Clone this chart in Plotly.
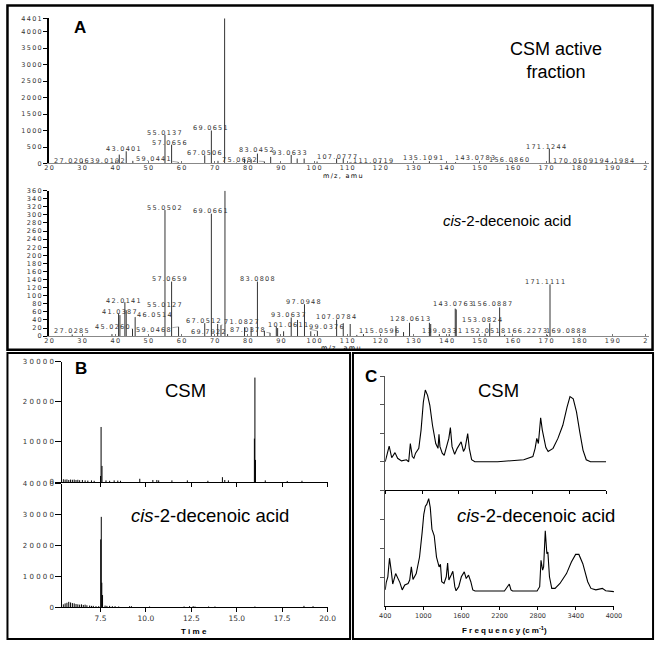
import plotly.graph_objects as go

W, H = 664, 645
SANS = "Liberation Sans, Arial, Helvetica, sans-serif"
SMALL = "DejaVu Sans, Verdana, sans-serif"
THIN = "\u2009"

# ---- panel A: mass spectra (m/z, intensity) ----
A1_MZ = [27.0, 39.0, 41.2, 43.3, 45.3, 55.0, 57.0, 59.0, 67.0, 69.0,
         71.0, 73.0, 76.6, 79.0, 81.0, 82.9, 85.0, 86.9, 93.1, 94.9,
         97.0, 100.9, 106.8, 108.8, 110.8, 134.8, 142.7, 156.0, 171.0, 184.0]
A1_INT = [20, 20, 270, 370, 80, 870, 570, 40, 250, 1000,
          80, 4401, 30, 150, 130, 300, 60, 200, 260, 150,
          150, 60, 150, 150, 30, 70, 40, 20, 450, 15]
A1_LABELS = ["27.0206", "39.0192", "43.0401", "59.0441", "55.0137", "57.0656",
             "67.0506", "69.0651", "73.0246", "75.0682", "83.0452", "93.0633",
             "107.0777", "111.0719", "135.1091", "143.0783", "156.0860",
             "171.1244", "170.0509", "194.1984"]

A2_MZ = [27.0, 39.0, 41.0, 41.4, 42.9, 43.3, 45.2, 46.0, 55.0, 57.0,
         59.1, 67.0, 69.0, 70.9, 71.9, 73.1, 73.9, 79.0, 81.0, 82.9,
         85.0, 86.7, 88.6, 89.0, 90.8, 93.1, 95.0, 97.1, 99.0, 101.0,
         106.8, 108.8, 110.9, 112.9, 114.9, 124.7, 127.0, 128.8, 134.8, 135.2,
         137.8, 140.8, 142.6, 142.9, 151.6, 153.0, 156.0, 157.5, 170.4, 171.2]
A2_INT = [4, 5, 55, 52, 84, 64, 18, 47, 312, 135,
          23, 32, 303, 30, 27, 360, 5, 22, 22, 135,
          13, 8, 23, 20, 12, 46, 40, 79, 12, 13,
          41, 32, 30, 3, 5, 25, 10, 33, 33, 30,
          5, 5, 68, 66, 6, 32, 71, 3, 3, 128]
A2_LABELS = ["27.0285", "45.0260", "41.0387", "42.0141", "46.0514", "55.0127",
             "59.0468", "55.0502", "57.0659", "69.0661", "73.0283", "67.0512",
             "69.7922", "71.0827", "87.0378", "83.0808", "97.0948", "93.0637",
             "101.0611", "107.0784", "99.0376", "115.0596", "128.0613",
             "139.0331", "143.0763", "156.0887", "153.0824", "152.0518",
             "166.2273", "169.0888", "171.1111"]

MZ_TICKS = [20, 30, 40, 50, 60, 70, 80, 90, 100, 110, 120, 130, 140, 150,
            160, 170, 180, 190, 200]
MZ_TICK_TEXT = ["20", "30", "40", "50", "60", "70", "80", "90", "100", "110",
                "120", "130", "140", "150", "160", "170", "180", "190", "2"]
A1_YTICKS = [0, 500, 1000, 1500, 2000, 2500, 3000, 3500, 4000, 4401]
A2_YTICKS = list(range(0, 361, 20))

# ---- panel B: GC chromatograms (time, abundance) ----
B1_T = [5.45, 5.55, 5.65, 5.75, 5.85, 5.95, 6.05, 6.15, 6.25, 6.35,
        6.5, 6.65, 6.8, 7.0, 7.15, 7.5, 7.53, 7.58, 7.8, 8.0,
        8.25, 8.45, 8.6, 9.66, 10.38, 10.6, 10.7, 11.43, 12.28, 13.41,
        14.21, 14.34, 14.54, 15.97, 16.0, 16.03, 16.57, 17.78, 18.59]
B1_A = [700, 600, 650, 500, 600, 550, 600, 500, 550, 450,
        500, 400, 350, 400, 300, 1500, 13700, 4000, 400, 300,
        400, 350, 300, 800, 500, 500, 400, 400, 400, 300,
        1200, 500, 400, 10800, 26000, 5500, 400, 250, 300]
B2_T = [5.45, 5.55, 5.65, 5.75, 5.85, 5.95, 6.05, 6.15, 6.25, 6.35,
        6.45, 6.55, 6.65, 6.75, 6.9, 7.0, 7.1, 7.25, 7.4, 7.51,
        7.54, 7.57, 7.61, 7.75, 7.85, 8.0, 8.15, 8.3, 8.5, 9.1,
        9.2, 10.2, 12.1, 12.4, 12.6, 12.7, 13.45, 13.8, 16.0, 18.7,
        19.2]
B2_A = [1000, 1300, 1500, 1800, 1600, 1400, 1300, 1100, 1000, 900,
        1000, 800, 900, 700, 600, 500, 500, 400, 400, 22000,
        29300, 8000, 4000, 600, 500, 500, 400, 400, 300, 400,
        400, 300, 300, 400, 400, 300, 300, 300, 300, 500,
        400]
B_XTICKS = [7.5, 10.0, 12.5, 15.0, 17.5, 20.0]
B_XTICK_TEXT = ["7.5", "10.0", "12.5", "15.0", "17.5", "20.0"]

# ---- panel C: IR spectra (wavenumber, relative absorbance) ----
C1_WN = [400, 464, 506, 559, 602, 665, 745, 782, 809, 841,
         867, 894, 947, 984, 1021, 1053, 1090, 1127, 1170, 1223,
         1260, 1276, 1292, 1329, 1361, 1398, 1436, 1462, 1489, 1531,
         1573, 1637, 1675, 1701, 1744, 1770, 1808, 1860, 2232, 2657,
         2806, 2843, 2870, 2896, 2933, 2960, 2986, 3018, 3055, 3135,
         3214, 3294, 3363, 3411, 3464, 3517, 3570, 3623, 3676, 3745,
         4000]
C1_ABS = [1.0, 1.55, 1.14, 1.32, 1.12, 1.03, 1.07, 1.0, 1.64, 1.18,
          1.12, 1.3, 1.47, 2.11, 3.09, 3.52, 3.33, 2.98, 2.28, 1.64,
          1.47, 1.96, 1.53, 1.3, 1.22, 1.53, 1.82, 2.2, 1.53, 1.26,
          1.47, 1.7, 1.36, 1.47, 1.99, 1.47, 1.07, 1.0, 1.0, 1.07,
          1.18, 1.47, 1.82, 1.64, 2.54, 2.11, 1.82, 1.5, 1.36, 1.47,
          1.82, 2.28, 2.92, 3.29, 3.21, 2.75, 2.05, 1.41, 1.07, 1.0,
          1.0]
C2_WN = [400, 415, 441, 467, 493, 518, 564, 590, 631, 667,
         708, 760, 785, 811, 837, 888, 940, 981, 1007, 1032,
         1053, 1084, 1109, 1135, 1171, 1207, 1248, 1269, 1289, 1325,
         1361, 1382, 1402, 1438, 1464, 1495, 1515, 1557, 1598, 1644,
         1675, 1711, 1747, 1778, 1814, 2276, 2317, 2353, 2379, 2405,
         2790, 2831, 2852, 2877, 2893, 2919, 2944, 2960, 2985, 3021,
         3073, 3150, 3253, 3330, 3397, 3448, 3510, 3587, 3638, 3715,
         3818, 3870, 4000]
C2_ABS = [0.57, 0.82, 1.02, 1.66, 1.25, 0.77, 1.13, 1.02, 0.82, 0.57,
          0.74, 0.79, 0.91, 1.36, 0.93, 1.13, 1.7, 2.55, 3.17, 3.45,
          3.51, 3.71, 3.4, 2.66, 2.43, 1.7, 1.36, 1.45, 0.85, 0.79,
          1.02, 1.49, 0.91, 1.08, 1.21, 0.68, 0.54, 0.68, 1.02, 1.19,
          0.96, 1.08, 0.85, 0.57, 0.53, 0.53, 0.68, 0.77, 0.57, 0.53,
          0.53, 0.68, 1.59, 1.25, 1.36, 2.6, 1.81, 1.87, 1.02, 0.62,
          0.62, 0.79, 1.13, 1.53, 1.79, 1.79, 1.47, 0.85, 0.62, 0.57,
          0.62, 0.54, 0.51]
C_XTICKS = [400, 1000, 1600, 2200, 2800, 3400, 4000]

# label placement (m/z, intensity) and optional leader end
A1_LABEL_PLACE = [
    (26.8, 90, None, None), (37.8, 90, None, None), (42.4, 434, None, None),
    (51.5, 144, 59.0, 40), (54.8, 934, None, None), (56.4, 623, None, None),
    (66.9, 323, None, None), (68.8, 1063, None, None), (72.8, 4536, None, None),
    (77.6, 105, 85.0, 60), (82.5, 404, None, None), (92.5, 314, None, None),
    (107.0, 195, None, None), (117.9, 75, 110.8, 30), (133.0, 165, None, None),
    (148.6, 165, 142.7, 40), (158.9, 105, None, None), (170.1, 494, None, None),
    (178.1, 75, 171.0, 30), (190.5, 75, 184.0, 15),
]
A2_LABEL_PLACE = [
    (26.8, 13, None, None), (39.2, 23.5, 45.2, 18), (41.2, 60, None, None),
    (42.4, 87, None, None), (51.8, 52, 46.0, 47), (54.8, 76.5, None, None),
    (51.5, 14.7, 59.1, 23), (54.8, 318, None, None), (56.4, 142, None, None),
    (68.8, 310.5, None, None), (72.8, 370, None, None), (66.7, 38, None, None),
    (68.1, 11, None, None), (78.1, 36, 71.9, 27), (79.9, 15.4, 86.7, 8),
    (82.8, 142, None, None), (96.7, 84.6, None, None), (92.2, 52, None, None),
    (92.2, 27.6, 101.0, 13), (106.7, 48, None, None), (103.8, 23.5, 99.0, 12),
    (119.7, 13, 113.5, 5), (128.8, 41.6, None, None), (138.6, 11.7, None, None),
    (142.0, 80.7, None, None), (153.6, 80.7, None, None), (150.7, 40, None, None),
    (151.5, 13, None, None), (164.2, 12.2, 157.5, 3), (176.0, 12.2, 170.4, 3),
    (169.8, 135, None, None),
]


def spaced(text, sep=THIN):
    return sep.join(text)


def fx(p):
    return p / W


def fy(p):
    return 1 - p / H


def stem_xy(xs, ys):
    # vertical sticks from zero up to each value
    x, y = [], []
    for a, b in zip(xs, ys):
        x += [a, a, None]
        y += [0, b, None]
    return x, y


def small_font(size=6.5):
    return dict(family=SMALL, size=size, color="#333")


def label_annotations(texts, places, xref, yref):
    anns = []
    for text, (lx, ly, tx, ty) in zip(texts, places):
        a = dict(text=spaced(text), xref=xref, yref=yref, font=small_font())
        if tx is None:
            a.update(x=lx, y=ly, showarrow=False)
        else:
            a.update(x=tx, y=ty, ax=lx, ay=ly, axref=xref, ayref=yref,
                     showarrow=True, arrowhead=0, arrowwidth=0.6,
                     arrowcolor="#777", standoff=0)
        anns.append(a)
    return anns


def ms_xaxis(ydom_anchor):
    return dict(domain=[fx(44), fx(657.6)], anchor=ydom_anchor, range=[20, 201],
                tickmode="array", tickvals=MZ_TICKS,
                ticktext=[spaced(t) for t in MZ_TICK_TEXT],
                ticks="inside", ticklen=2, tickcolor="#777", ticklabelstandoff=-2,
                showline=True, linecolor="#888", linewidth=1,
                showgrid=False, zeroline=False, tickfont=small_font())


def ms_yaxis(xanchor, dom, top, ticks):
    return dict(domain=dom, anchor=xanchor, range=[0, top],
                tickmode="array", tickvals=ticks,
                ticktext=[spaced(str(t)) for t in ticks],
                ticks="outside", ticklen=4, tickcolor="black",
                showline=True, linecolor="black", linewidth=2,
                showgrid=False, zeroline=False, tickfont=small_font())


def build_figure():
    fig = go.Figure()
    line = dict(color="#333", width=1)

    x, y = stem_xy(A1_MZ, A1_INT)
    fig.add_trace(go.Scatter(x=x, y=y, mode="lines", line=line, xaxis="x", yaxis="y"))
    x, y = stem_xy(A2_MZ, A2_INT)
    fig.add_trace(go.Scatter(x=x, y=y, mode="lines", line=line, xaxis="x2", yaxis="y2"))

    x, y = stem_xy(B1_T, B1_A)
    fig.add_trace(go.Scatter(x=x, y=y, mode="lines", line=dict(color="black", width=1),
                             xaxis="x3", yaxis="y3"))
    x, y = stem_xy(B2_T, B2_A)
    fig.add_trace(go.Scatter(x=x, y=y, mode="lines", line=dict(color="black", width=1),
                             xaxis="x4", yaxis="y4"))

    fig.add_trace(go.Scatter(x=C1_WN, y=C1_ABS, mode="lines",
                             line=dict(color="black", width=1.1), xaxis="x5", yaxis="y5"))
    fig.add_trace(go.Scatter(x=C2_WN, y=C2_ABS, mode="lines",
                             line=dict(color="black", width=1.1), xaxis="x6", yaxis="y6"))
    fig.update_traces(hoverinfo="skip", showlegend=False, cliponaxis=False)

    b_x = dict(domain=[fx(57.7), fx(329)], range=[5.4, 20], tickmode="array",
               tickvals=B_XTICKS, ticktext=B_XTICK_TEXT, ticks="outside", ticklen=4,
               tickcolor="black", showline=True, linecolor="black", linewidth=1,
               showgrid=False, zeroline=False, tickfont=small_font(7.5))
    b_y = dict(ticks="outside", ticklen=6, tickcolor="black", showline=True,
               linecolor="black", linewidth=1, showgrid=False, zeroline=False,
               tickfont=small_font(7), tickmode="array")
    c_x = dict(range=[400, 4000], tickmode="array", tickvals=C_XTICKS,
               ticks="outside", ticklen=3, tickcolor="black", showline=True,
               linecolor="black", linewidth=1, showgrid=False, zeroline=False,
               tickfont=small_font(6.5))
    c_y = dict(range=[0, 4], tickvals=[1, 2, 3, 4], showticklabels=False,
               ticks="outside", ticklen=4, tickcolor="#555", showline=True,
               linecolor="#555", linewidth=1, showgrid=False, zeroline=False)

    b1_ticks = [0, 10000, 20000, 30000]
    b2_ticks = [0, 10000, 20000, 30000, 40000]

    fig.update_layout(
        width=W, height=645, margin=dict(l=0, r=0, t=0, b=0),
        paper_bgcolor="white", plot_bgcolor="white", showlegend=False,
        xaxis=ms_xaxis("y"),
        yaxis=ms_yaxis("x", [fy(161.5), fy(14.5)], 4401, A1_YTICKS),
        xaxis2=ms_xaxis("y2"),
        yaxis2=ms_yaxis("x2", [fy(336.3), fy(189)], 360, A2_YTICKS),
        xaxis3=dict(b_x, anchor="y3", showticklabels=False),
        yaxis3=dict(b_y, anchor="x3", domain=[fy(484), fy(362)], range=[0, 30000],
                    tickvals=b1_ticks, ticktext=[spaced(str(t), " ") for t in b1_ticks]),
        xaxis4=dict(b_x, anchor="y4"),
        yaxis4=dict(b_y, anchor="x4", domain=[fy(611), fy(485.8)], range=[0, 40000],
                    tickvals=b2_ticks, ticktext=[spaced(str(t), " ") for t in b2_ticks]),
        xaxis5=dict(c_x, anchor="y5", domain=[fx(388), fx(614)], showticklabels=False),
        yaxis5=dict(c_y, anchor="x5", domain=[fy(492.3), fy(377)]),
        xaxis6=dict(c_x, anchor="y6", domain=[fx(388), fx(622)]),
        yaxis6=dict(c_y, anchor="x6", domain=[fy(610), fy(492.3)]),
    )

    anns = label_annotations(A1_LABELS, A1_LABEL_PLACE, "x", "y")
    anns += label_annotations(A2_LABELS, A2_LABEL_PLACE, "x2", "y2")

    def text_at(px, py, text, size, bold=False, family=SANS):
        if bold:
            text = "<b>" + text + "</b>"
        return dict(x=fx(px), y=fy(py), xref="paper", yref="paper", text=text,
                    showarrow=False, xanchor="center", yanchor="middle",
                    font=dict(family=family, size=size, color="black"))

    anns += [
        text_at(345, 174.5, spaced("m/z, amu"), 6.5, family=SMALL),
        text_at(343, 348.5, spaced("m/z, amu"), 6.5, family=SMALL),
        text_at(76, 24, "A", 17, bold=True),
        text_at(563, 57, "CSM active<br>fraction", 18),
        text_at(513, 219, "<i>cis</i>-2-decenoic acid", 15),
        text_at(77, 369, "B", 17, bold=True),
        text_at(184, 391, "CSM", 18.5),
        text_at(209, 518, "<i>cis</i>-2-decenoic acid", 18.5),
        text_at(192, 635, spaced("Time", " "), 8, bold=True),
        text_at(373, 377, "C", 17, bold=True),
        text_at(504, 391, "CSM", 18.5),
        text_at(542, 518, "<i>cis</i>-2-decenoic acid", 18.5),
        text_at(510, 634, spaced("Frequency", " ") + " (c m<sup>-1</sup>)", 8, bold=True),
    ]
    fig.update_layout(annotations=anns)

    frame = dict(type="rect", xref="paper", yref="paper", line=dict(color="black"))
    fig.update_layout(shapes=[
        dict(frame, x0=fx(1.5), y0=fy(1.5), x1=fx(661.5), y1=fy(350), line_width=2.5),
        dict(frame, x0=fx(1.5), y0=fy(353.5), x1=fx(352), y1=fy(643), line_width=2),
        dict(frame, x0=fx(355), y0=fy(353.5), x1=fx(662), y1=fy(643), line_width=2),
    ])
    return fig


def main():
    fig = build_figure()
    # drop the page's default body margin so the 664x645 figure fills the window
    fig.write_html("out.html", config={"displayModeBar": False},
                   post_script="document.body.style.margin='0';"
                               "document.body.style.overflow='hidden';")


if __name__ == "__main__":
    main()
